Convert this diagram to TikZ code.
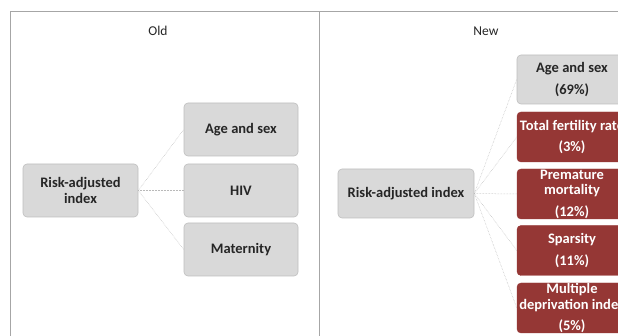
\documentclass[tikz,border=0pt]{standalone}
\usepackage{fontspec}
\setmainfont{Carlito}
\definecolor{boxgray}{HTML}{D9D9D9}
\definecolor{boxline}{HTML}{BFBFBF}
\definecolor{boxred}{HTML}{953735}
\definecolor{frameline}{HTML}{A6A6A6}
\definecolor{txt}{HTML}{262626}
\tikzset{
  graybox/.style={draw=boxline, fill=boxgray, rounded corners=4pt, align=center,
    font=\fontsize{14.5}{15.5}\selectfont\bfseries, text=txt, inner sep=0pt, line width=0.6pt},
  redbox/.style={draw=boxred, fill=boxred, rounded corners=4pt, align=center,
    font=\fontsize{14.5}{15.5}\selectfont\bfseries, text=white, inner sep=0pt,
    minimum width=110pt, minimum height=50pt},
  link/.style={draw=gray!55, densely dotted, line width=0.5pt},
  title/.style={font=\fontsize{13.5}{15}\selectfont, text=txt}
}
\begin{document}
\begin{tikzpicture}[x=1pt,y=-1pt]
\useasboundingbox (0,0) rectangle (618,336);
\fill[white] (0,0) rectangle (618,336);
% frame
\draw[frameline, line width=1pt] (10,345) -- (10,12) -- (640,12);
\draw[frameline, line width=1pt] (319,12) -- (319,345);
% titles
\node[title] (old) at (158,31) {Old};
\node[title] (new) at (486,31) {New};
% old panel
\node[graybox, minimum width=115pt, minimum height=53pt] (ora) at (80.5,190.5) {Risk-adjusted\\index};
\node[graybox, minimum width=114pt, minimum height=53pt] (oage) at (241,129.5) {Age and sex};
\node[graybox, minimum width=114pt, minimum height=53pt] (ohiv) at (241,190.5) {HIV};
\node[graybox, minimum width=114pt, minimum height=53pt] (omat) at (241,249.5) {Maternity};
\draw[link] (ora.east) -- (oage.west);
\draw[link] (ora.east) -- (ohiv.west);
\draw[link] (ora.east) -- (omat.west);
% new panel
\node[graybox, minimum width=136pt, minimum height=49pt] (nra) at (406,193.5) {Risk-adjusted index};
\node[graybox, minimum width=110pt, minimum height=49pt] (nage) at (572,79.5) {Age and sex\\[6pt](69\%)};
\node[redbox] (ntfr) at (572,137) {Total fertility rate\\[6pt](3\%)};
\node[redbox] (npm) at (572,194) {Premature\\mortality\\[6pt](12\%)};
\node[redbox] (nsp) at (572,250.5) {Sparsity\\[6pt](11\%)};
\node[redbox] (nmd) at (572,308) {Multiple\\deprivation index\\[6pt](5\%)};
\draw[link] (nra.east) -- (nage.west);
\draw[link] (nra.east) -- (ntfr.west);
\draw[link] (nra.east) -- (npm.west);
\draw[link] (nra.east) -- (nsp.west);
\draw[link] (nra.east) -- (nmd.west);
\end{tikzpicture}
\end{document}
